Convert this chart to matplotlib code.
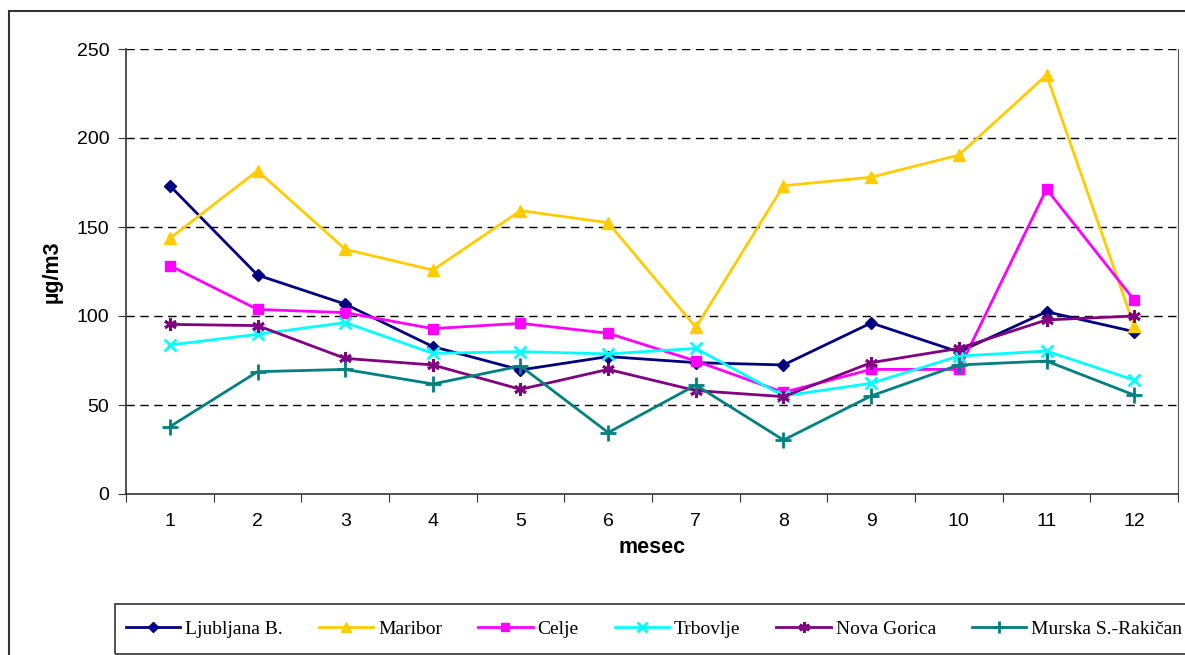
import matplotlib.pyplot as plt
from matplotlib.patches import Rectangle

months = list(range(1, 13))
ljubljana = [173.2, 123.0, 106.7, 82.8, 69.7, 77.2, 73.8, 72.5, 96.1, 79.8, 102.4, 91.2]
maribor = [143.6, 181.6, 137.5, 125.8, 159.2, 152.4, 93.6, 173.2, 178.0, 190.4, 235.4, 94.4]
celje = [128.3, 103.7, 101.9, 92.9, 95.9, 90.3, 74.7, 57.1, 70.0, 70.0, 171.3, 109.0]
trbovlje = [83.7, 89.7, 96.3, 79.0, 80.0, 78.7, 81.8, 55.1, 62.2, 77.5, 80.3, 64.0]
nova_gorica = [95.3, 94.6, 76.2, 72.5, 58.8, 70.0, 58.1, 54.7, 73.8, 81.8, 97.8, 100.0]
murska = [37.8, 68.7, 70.0, 61.8, 71.9, 34.5, 61.2, 30.3, 55.1, 72.5, 74.7, 55.6]

names = ["Ljubljana B.", "Maribor", "Celje", "Trbovlje", "Nova Gorica", "Murska S.-Rakičan"]
series = [ljubljana, maribor, celje, trbovlje, nova_gorica, murska]
colors = ["#000080", "#FFCC00", "#FF00FF", "#00FFFF", "#800080", "#008080"]
markers = ["D", "^", "s", "x", (6, 2, 0), "+"]
msizes = [6, 8, 7, 8, 9, 11]

plt.rcParams['font.family'] = ['Liberation Sans', 'DejaVu Sans']

fig = plt.figure(figsize=(11.85, 6.55), dpi=100)
ax = fig.add_axes([126/1185, 1-494/655, (1178-126)/1185, (494-49)/655])

for vals, name, c, m, ms in zip(series, names, colors, markers, msizes):
    ax.plot(months, vals, color=c, lw=2, marker=m, ms=ms, mew=2 if m in ("x", "+", (6, 2, 0)) else 1,
            mfc=c, mec=c, label=name, clip_on=False)

ax.set_xlim(0.5, 12.5)
ax.set_ylim(0, 250)
ax.set_yticks([0, 50, 100, 150, 200, 250])
ax.set_xticks([i + 0.5 for i in range(13)])
ax.set_xticklabels([])
ax.set_xticks(months, minor=True)
ax.set_xticklabels([str(m) for m in months], minor=True)
ax.tick_params(axis='x', which='major', direction='out', length=6, color='#333333')
ax.tick_params(axis='x', which='minor', length=0, pad=14, labelsize=14)
ax.tick_params(axis='y', direction='out', length=6, color='#333333', labelsize=14, pad=6)

for y in [50, 100, 150, 200, 250]:
    ax.axhline(y, color='black', lw=1, ls=(0, (6, 4)), zorder=0)

ax.spines['top'].set_visible(False)
ax.spines['right'].set_color('#555555')
ax.spines['left'].set_color('#333333')
ax.spines['bottom'].set_color('#333333')
ax.spines['left'].set_linewidth(1.2)
ax.spines['bottom'].set_linewidth(1.2)

ax.set_ylabel('µg/m3', fontsize=15.5, fontweight='bold', labelpad=10)
ax.set_xlabel('mesec', fontsize=15.5, fontweight='bold', labelpad=5)

# outer chart frame and legend frame
fig.patches.append(Rectangle((9/1185, -0.1), 1.2, 1-11/655+0.1, transform=fig.transFigure,
                             fill=False, ec='#333333', lw=1.5))
fig.patches.append(Rectangle((115/1185, 1-654/655), 1.2, 50/655, transform=fig.transFigure,
                             fill=False, ec='#333333', lw=1.2))

fig.legend(loc='center left', bbox_to_anchor=(126/1185, 1-629/655), ncol=6, frameon=False,
           prop={'family': 'Liberation Serif', 'size': 14}, handlelength=2.8,
           handletextpad=0.25, columnspacing=1.85, borderaxespad=0, borderpad=0,
           markerscale=0.85)

fig.savefig('out.png', dpi=100)
